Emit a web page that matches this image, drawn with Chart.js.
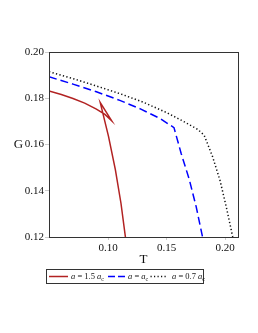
<!DOCTYPE html>
<html>
<head>
<meta charset="utf-8">
<script src="https://cdn.jsdelivr.net/npm/chart.js@4"></script>
<style>
  body { margin: 0; background: #fff; }
  #wrap { position: relative; width: 258px; height: 333px; }
  #legend {
    position: absolute; left: 46px; top: 269px; width: 158px; height: 15px;
    border: 1px solid #333; box-sizing: border-box;
    font-family: 'Liberation Serif', serif; font-size: 8.5px; color: #111;
    white-space: nowrap;
  }
  #legend svg { position: absolute; top: 4px; }
  #legend .tx { position: absolute; top: 0px; line-height: 12px; }
  #legend sub { font-size: 6px; vertical-align: -2px; }
</style>
</head>
<body>
<div id="wrap">
  <canvas id="mycanvas" width="258" height="333"></canvas>
  <div id="legend">
    <svg style="left:2px" width="19" height="5"><line x1="0" y1="2.5" x2="19" y2="2.5" stroke="#b22222" stroke-width="1.5"/></svg>
    <span class="tx" style="left:24px"><i>a</i> = 1.5 <i>a</i><sub>c</sub></span>
    <svg style="left:61px" width="18" height="5"><line x1="0" y1="2.5" x2="18" y2="2.5" stroke="#0000ff" stroke-width="1.5" stroke-dasharray="7,3"/></svg>
    <span class="tx" style="left:81px"><i>a</i> = <i>a</i><sub>c</sub></span>
    <svg style="left:103px" width="17" height="5"><line x1="0.5" y1="2.5" x2="17" y2="2.5" stroke="#111" stroke-width="1.3" stroke-dasharray="1.2,2.3"/></svg>
    <span class="tx" style="left:125px"><i>a</i> = 0.7 <i>a</i><sub>c</sub></span>
  </div>
</div>
<script>
// a = 1.5 ac (with swallowtail)
var redT = [0.0495, 0.060, 0.070, 0.080, 0.090, 0.0973, 0.1030, 0.0933, 0.1003, 0.1062, 0.1110, 0.1148];
var redG = [0.1831, 0.1816, 0.1799, 0.1779, 0.1753, 0.1730, 0.1703, 0.1781, 0.1636, 0.1491, 0.1346, 0.1200];
// a = ac
var blueT = [0.0495, 0.070, 0.090, 0.110, 0.128, 0.1445, 0.1563, 0.1625, 0.1693, 0.1753, 0.1807];
var blueG = [0.1893, 0.1861, 0.1828, 0.1791, 0.1753, 0.1712, 0.1673, 0.1560, 0.1450, 0.1330, 0.1200];
// a = 0.7 ac
var blackT = [0.0495, 0.070, 0.090, 0.110, 0.130, 0.150, 0.1644, 0.1767, 0.1821, 0.1891, 0.1955, 0.2010, 0.2065];
var blackG = [0.1915, 0.1885, 0.1853, 0.1820, 0.1783, 0.1738, 0.1700, 0.1665, 0.1640, 0.1550, 0.1447, 0.1330, 0.1200];

var xTicks = [0.10, 0.15, 0.20];
var yTicks = [0.12, 0.14, 0.16, 0.18, 0.20];

function pts(xs, ys) {
  var out = [];
  for (var i in xs) out.push({x: xs[i], y: ys[i]});
  return out;
}

var serif = "'Liberation Serif', 'Times New Roman', serif";

var boxAndG = {
  id: 'boxAndG',
  afterDraw: function(chart) {
    var a = chart.chartArea, ctx = chart.ctx;
    ctx.save();
    ctx.strokeStyle = '#333';
    ctx.lineWidth = 1;
    ctx.strokeRect(Math.round(a.left) + 0.5, Math.round(a.top) + 0.5,
                   Math.round(a.right - a.left), Math.round(a.bottom - a.top));
    ctx.fillStyle = '#111';
    ctx.font = '13px ' + serif;
    ctx.textAlign = 'center';
    ctx.textBaseline = 'middle';
    ctx.fillText('G', 18.5, (a.top + a.bottom) / 2);
    ctx.restore();
  }
};

var ctx = document.getElementById('mycanvas');
new Chart(ctx, {
  type: 'scatter',
  data: {
    datasets: [
      { data: pts(redT, redG), borderColor: '#b22222', borderWidth: 1.5, showLine: true, pointRadius: 0 },
      { data: pts(blueT, blueG), borderColor: '#0000ff', borderWidth: 1.5, borderDash: [8, 4], showLine: true, pointRadius: 0 },
      { data: pts(blackT, blackG), borderColor: '#111', borderWidth: 1.5, borderDash: [1.3, 2.3], showLine: true, pointRadius: 0 }
    ]
  },
  options: {
    responsive: false,
    animation: false,
    layout: { padding: { left: 0, top: 52, right: 20, bottom: 66 } },
    plugins: { legend: { display: false }, tooltip: { enabled: false } },
    scales: {
      x: {
        type: 'linear', min: 0.0495, max: 0.211,
        afterBuildTicks: function(s) { s.ticks = xTicks.map(function(v) { return {value: v}; }); },
        afterFit: function(s) { s.height = 30; },
        grid: { display: true, drawOnChartArea: false, drawTicks: true, tickLength: 3, color: '#ccc' },
        border: { display: false },
        ticks: { padding: 2, color: '#111', font: { family: serif, size: 11 }, maxRotation: 0,
                 callback: function(v) { return v.toFixed(2); } },
        title: { display: true, text: 'T', color: '#111', font: { family: serif, size: 13 }, padding: { top: 1, bottom: 0 } }
      },
      y: {
        type: 'linear', min: 0.12, max: 0.20,
        afterBuildTicks: function(s) { s.ticks = yTicks.map(function(v) { return {value: v}; }); },
        afterFit: function(s) { s.width = 49; },
        grid: { display: true, drawOnChartArea: false, drawTicks: true, tickLength: 4, color: '#ccc' },
        border: { display: false },
        ticks: { padding: 1, color: '#111', font: { family: serif, size: 11 },
                 callback: function(v) { return v.toFixed(2); } }
      }
    }
  },
  plugins: [boxAndG]
});
</script>
</body>
</html>
